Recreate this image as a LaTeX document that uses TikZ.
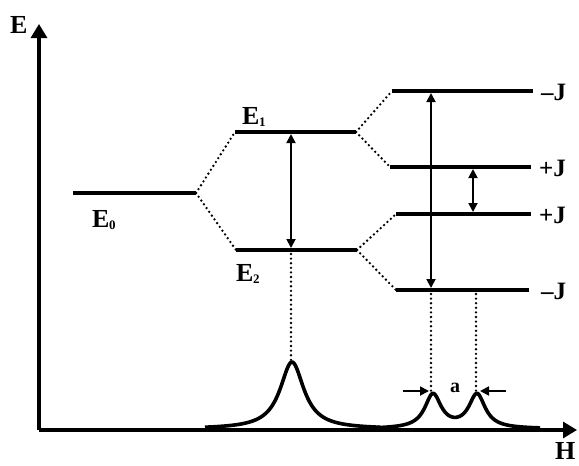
\documentclass[tikz,border=0pt]{standalone}
\usepackage{fontspec}
\setmainfont{Liberation Serif}
\usetikzlibrary{arrows.meta}
\begin{document}
\begin{tikzpicture}[x=1pt,y=-1pt,
  level/.style={line width=3.5pt},
  axis/.style={line width=3.2pt,-{Triangle[length=14pt,width=16pt]}},
  dots/.style={line width=2.6pt,line cap=round,dash pattern=on 0pt off 4.6pt},
  trans/.style={line width=1.8pt,{Triangle[length=9pt,width=9pt]}-{Triangle[length=9pt,width=9pt]}},
  peak/.style={line width=3.6pt,line join=round},
  lab/.style={font=\fontsize{26}{26}\bfseries\selectfont,inner sep=0pt},
  jlab/.style={font=\fontsize{25}{25}\bfseries\selectfont,inner sep=0pt,anchor=west},
  aarrow/.style={line width=1.8pt,-{Triangle[length=9pt,width=9pt]}}]
\newcommand{\subsc}[1]{\kern-0.5pt\raisebox{-2.5pt}{\fontsize{13}{13}\bfseries\selectfont #1}}
\useasboundingbox (0,0) rectangle (579,466);
% axes
\coordinate (O) at (39,430);
\coordinate (Etop) at (39,24);
\coordinate (Hend) at (577,430);
\draw[axis] (O) -- (Etop);
\draw[axis] (O) -- (Hend);
\node[lab,anchor=base west] (Elab) at (10,33) {E};
\node[lab,anchor=base west] (Hlab) at (555,459) {H};
% levels
\coordinate (E0a) at (73,193); \coordinate (E0b) at (196,193);
\coordinate (E1a) at (235,132); \coordinate (E1b) at (356,132);
\coordinate (E2a) at (236,250); \coordinate (E2b) at (357,250);
\coordinate (J1a) at (392,91);  \coordinate (J1b) at (533,91);
\coordinate (J2a) at (390,167); \coordinate (J2b) at (531,167);
\coordinate (J3a) at (396,214); \coordinate (J3b) at (531,214);
\coordinate (J4a) at (396,290); \coordinate (J4b) at (529,290);
\foreach \a/\b in {E0a/E0b,E1a/E1b,E2a/E2b,J1a/J1b,J2a/J2b,J3a/J3b,J4a/J4b}
  \draw[level] (\a) -- (\b);
% dotted correlation lines
\draw[dots] (E0b) -- (E1a);
\draw[dots] (E0b) -- (E2a);
\draw[dots] (E1b) -- (J1a);
\draw[dots] (E1b) -- (J2a);
\draw[dots] (E2b) -- (J3a);
\draw[dots] (E2b) -- (J4a);
% labels
\node[lab,anchor=base west] (E0l) at (92,227) {E\subsc{0}};
\node[lab,anchor=base west] (E1l) at (242,124) {E\subsc{1}};
\node[lab,anchor=base west] (E2l) at (236,281) {E\subsc{2}};
\node[jlab] (Jl1) at (541,92) {--J};
\node[jlab] (Jl2) at (539,168) {+J};
\node[jlab] (Jl3) at (539,215) {+J};
\node[jlab] (Jl4) at (541,291) {--J};
% transitions
\coordinate (t1a) at (291,134); \coordinate (t1b) at (291,248);
\draw[trans] (t1a) -- (t1b);
\coordinate (t2a) at (431,93); \coordinate (t2b) at (431,288);
\draw[trans] (t2a) -- (t2b);
\coordinate (t3a) at (473,169); \coordinate (t3b) at (473,212);
\draw[trans] (t3a) -- (t3b);
% dotted projections to peaks
\coordinate (p1) at (291,364);
\coordinate (p2) at (431,394);
\coordinate (p3) at (476,393);
\coordinate (d1) at (291,254);
\coordinate (d2) at (431,294);
\coordinate (d3) at (476,294);
\draw[dots] (d1) -- (p1);
\draw[dots] (d2) -- (p2);
\draw[dots] (d3) -- (p3);
% peaks
\draw[peak] plot[domain=205:380,samples=160] (\x,{429-67/(1+((\x-292)/14.5)^2)});
\draw[peak] plot[domain=375:540,samples=200] (\x,{429-34/(1+((\x-433)/10)^2)-34/(1+((\x-477)/10)^2)});
% width a
\coordinate (aL0) at (403,391); \coordinate (aL1) at (429,391);
\coordinate (aR0) at (506,391); \coordinate (aR1) at (480,391);
\draw[aarrow] (aL0) -- (aL1);
\draw[aarrow] (aR0) -- (aR1);
\node[font=\fontsize{20}{20}\bfseries\selectfont,inner sep=0pt,anchor=base] (alab) at (455,392) {a};
\end{tikzpicture}
\end{document}
